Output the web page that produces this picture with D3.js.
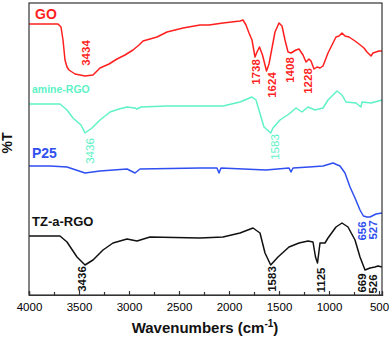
<!DOCTYPE html>
<html>
<head>
<meta charset="utf-8">
<script src="https://cdn.jsdelivr.net/npm/d3@7"></script>
<style>
html,body{margin:0;padding:0;background:#fff;}
svg{display:block;font-family:"Liberation Sans",Arial,sans-serif;}
</style>
</head>
<body>
<svg id="chart" width="390" height="339"></svg>
<script>
// ---- data (wavenumber cm-1, %T in arbitrary offset units) ----
const goData = [[4000,135.5],[3710,135.5],[3680,134],[3660,127.5],[3640,117.5],[3620,114],[3600,112.5],[3540,110.5],[3440,109.5],[3360,110],[3290,113.5],[3200,115.5],[3120,118],[3040,120],[2960,122.5],[2900,125],[2860,127],[2720,129],[2620,131.5],[2460,133.5],[2290,135],[2200,135],[2060,136],[1890,137],[1860,137.5],[1830,135],[1800,131],[1770,127.5],[1740,119],[1720,121.5],[1695,124],[1665,120],[1625,112],[1600,115.5],[1570,123.5],[1540,131.5],[1500,136],[1470,134.5],[1440,127.5],[1410,121.5],[1380,121],[1330,122.5],[1300,123],[1260,120],[1230,116.5],[1200,118],[1180,117],[1150,113],[1120,114],[1090,113.5],[1060,114.5],[1010,121],[960,126],[930,129],[900,129.5],[870,131],[840,129.5],[800,129],[740,127],[700,125.5],[650,123.5],[620,121.5],[580,119.5],[560,121],[530,121.5],[500,122],[470,122]];
const amineData = [[4000,95.5],[3690,95.5],[3620,92.5],[3560,88.5],[3480,85],[3440,81],[3370,83.5],[3290,87.5],[3190,91.5],[3100,93],[3020,94],[2940,93.5],[2920,93],[2880,94],[2620,94.5],[2290,94.5],[2060,94.5],[1890,96.5],[1770,99],[1730,97.5],[1680,89],[1650,84],[1583,81],[1560,83.5],[1490,87.5],[1400,90.5],[1330,93.5],[1270,91.5],[1210,94],[1140,92.5],[1060,93.5],[1010,97.5],[920,102],[870,100],[830,96.5],[730,96],[680,94],[670,96.5],[580,96],[470,97.5]];
const p25Data = [[4000,64.5],[3790,64.5],[3620,64],[3440,61],[3290,62],[3020,63],[2940,61],[2890,63],[2290,63.5],[2120,63.5],[2100,61],[2080,63.5],[1630,62.5],[1400,63.5],[1380,61.5],[1360,63.5],[1200,64],[1060,64.5],[960,66],[890,64.5],[840,61],[790,54],[740,48.5],[690,42.5],[656,39.5],[620,39],[590,39],[530,40.5],[470,41]];
const tzData = [[4000,29.5],[3690,29.5],[3620,26.5],[3520,19],[3440,15],[3360,17.5],[3260,22.5],[3160,26],[3020,28],[2920,27],[2790,29],[2290,28.5],[2060,29],[1890,31],[1760,33.5],[1690,31],[1640,21],[1583,15],[1510,19],[1400,24],[1300,26],[1210,27],[1160,26.5],[1135,19],[1115,16],[1090,26],[1040,26],[1010,28.5],[930,34],[870,36],[810,34],[740,27.5],[690,19],[640,12.5],[590,13.5],[540,14],[510,14.5],[470,14]];

const seriesNames = ["GO","amine-RGO","P25","TZ-a-RGO"];
const seriesColors = ["#ff1f1f","#5ef2c6","#2f4ff0","#111111"];
const seriesData = [goData, amineData, p25Data, tzData];

// peak annotations: [label, wavenumber, value, seriesIndex]
const peakLabels = [
  ["3434",3430,121,0],["1738",1730,111.5,0],["1624",1570,105,0],["1408",1395,112.5,0],["1228",1215,107,0],
  ["3436",3390,72,1],["1583",1540,74,1],
  ["656",670,32,2],["527",560,32.5,2],
  ["3436",3470,8,3],["1583",1570,8,3],["1125",1080,7.5,3],["669",670,6,3],["526",560,5.5,3]
];
const majorTicks = [4000,3500,3000,2500,2000,1500,1000,500];
const minorTicks = [3750,3250,2750,2250,1750,1250,750];

// ---- layout ----
const svg = d3.select("#chart");
const L = 29, R = 382, T = 3, B = 295;
const x = d3.scaleLinear().domain([4000,470]).range([L,R]);
const y = d3.scaleLinear().domain([0,146]).range([B,T]);

const line = d3.line().x(d => x(d[0])).y(d => y(d[1]));

seriesData.forEach((data,i) => {
  svg.append("path").datum(data)
    .attr("d", line).attr("fill","none")
    .attr("stroke", seriesColors[i]).attr("stroke-width",1.5)
    .attr("stroke-linejoin","round");
});

// frame
svg.append("rect").attr("x",L).attr("y",T).attr("width",R-L).attr("height",B-T)
  .attr("fill","none").attr("stroke","#333").attr("stroke-width",1.2);

// axes
const gMaj = svg.append("g").attr("transform",`translate(0,${B})`)
  .call(d3.axisBottom(x).tickValues(majorTicks).tickSize(-4).tickPadding(8).tickFormat(d3.format("d")));
const gMin = svg.append("g").attr("transform",`translate(0,${B})`)
  .call(d3.axisBottom(x).tickValues(minorTicks).tickSize(-3).tickFormat(""));
[gMaj,gMin].forEach(g => {
  g.select(".domain").attr("stroke","#333").attr("stroke-width",1.2);
  g.selectAll(".tick line").attr("stroke","#333").attr("stroke-width",1.2);
});
gMaj.selectAll(".tick text").attr("font-size","11.5px").attr("fill","#000")
  .attr("font-family","'Liberation Sans',Arial,sans-serif").attr("dy","0.71em");

// axis titles
const xt = svg.append("text").attr("x",205).attr("y",333).attr("text-anchor","middle")
  .attr("font-size","15px").attr("font-weight","bold").attr("fill","#111");
xt.append("tspan").text("Wavenumbers (cm");
xt.append("tspan").text("-1").attr("font-size","10px").attr("dy","-6");
xt.append("tspan").text(")").attr("dy","6");

svg.append("text").attr("transform","translate(12,143) rotate(-90)")
  .attr("text-anchor","middle").attr("font-size","14px").attr("font-weight","bold")
  .attr("fill","#111").text("%T");

// series names
const nameStyle = [[35,19,14],[32,93,10.5],[32,158,14],[32,226,13]];
seriesNames.forEach((n,i) => {
  svg.append("text").attr("x",nameStyle[i][0]).attr("y",nameStyle[i][1])
    .attr("font-size",nameStyle[i][2]+"px").attr("font-weight","bold")
    .attr("fill",seriesColors[i]).text(n);
});

// peak labels
peakLabels.forEach(p => {
  svg.append("text")
    .attr("transform",`translate(${x(p[1])},${y(p[2])}) rotate(-90)`)
    .attr("text-anchor","middle").attr("dominant-baseline","central")
    .attr("font-size","11.5px").attr("font-weight", p[3]===1 ? "normal" : "bold")
    .attr("fill",seriesColors[p[3]]).text(p[0]);
});
</script>
</body>
</html>
